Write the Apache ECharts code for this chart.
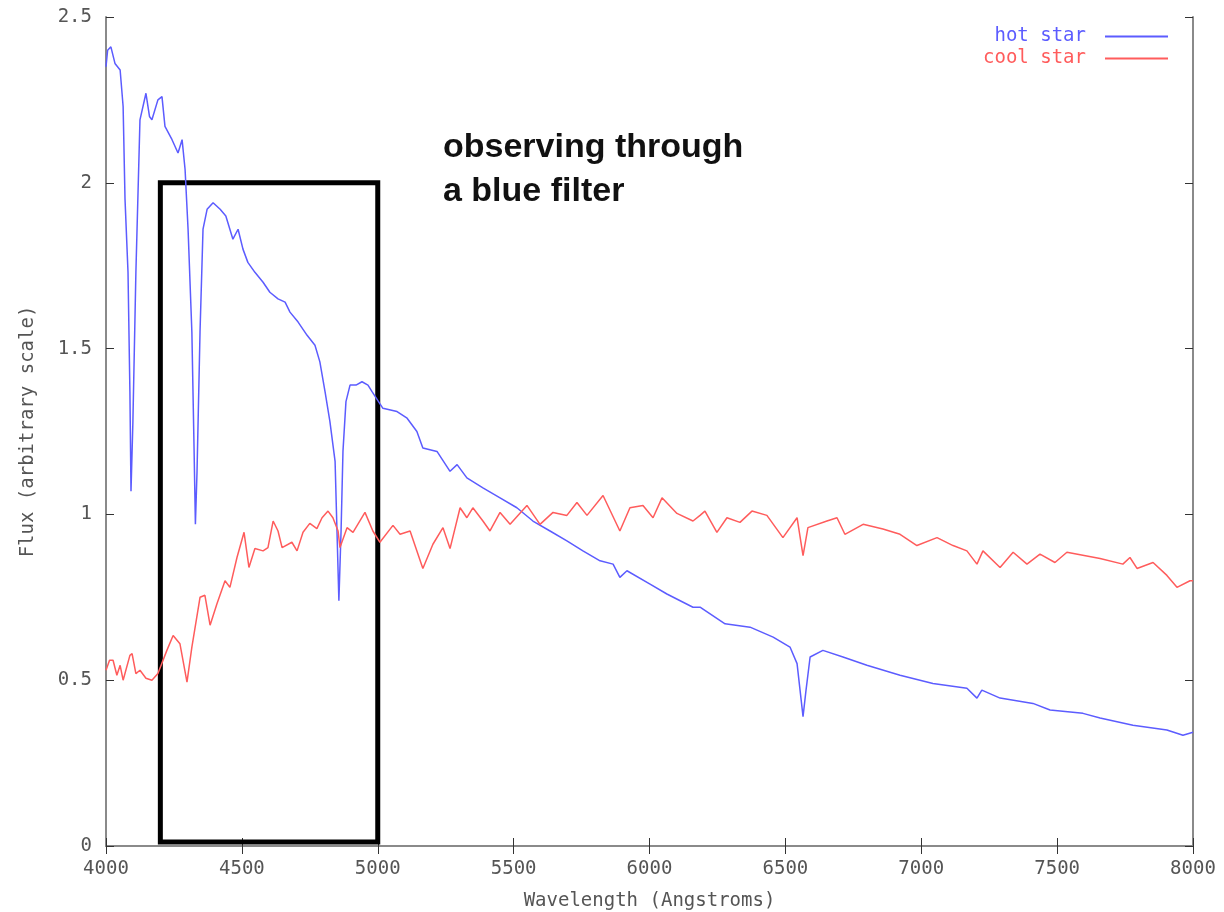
<!DOCTYPE html>
<html>
<head>
<meta charset="utf-8">
<title>hot star / cool star</title>
<script src="https://cdn.jsdelivr.net/npm/echarts@6/dist/echarts.min.js"></script>
<style>
  html, body { margin: 0; padding: 0; background: #fff; }
  #main { width: 1224px; height: 912px; }
</style>
</head>
<body>
<div id="main"></div>
<script>
// wavelength (Angstroms) and flux
const hotWave = [4000, 4006, 4018, 4033, 4052, 4063, 4070, 4081, 4088, 4092, 4099, 4110, 4125, 4147, 4160, 4169,
  4191, 4206, 4217, 4243, 4265, 4280, 4291, 4302, 4316, 4324, 4329, 4335, 4346, 4357, 4372, 4394, 4420, 4441,
  4467, 4486, 4504, 4522, 4548, 4578, 4603, 4633, 4659, 4677, 4707, 4740, 4769, 4787, 4806, 4824, 4843, 4850,
  4857, 4865, 4872, 4883, 4898, 4920, 4942, 4964, 4979, 5019, 5071, 5108, 5144, 5166, 5218, 5266, 5292, 5328,
  5387, 5450, 5512, 5571, 5634, 5696, 5755, 5818, 5866, 5891, 5917, 6002, 6064, 6160, 6186, 6278, 6370, 6455,
  6517, 6543, 6554, 6565, 6576, 6591, 6638, 6712, 6800, 6922, 7043, 7168, 7205, 7223, 7290, 7411, 7474, 7595,
  7658, 7779, 7904, 7963, 8000];
const hotFlux = [2.35, 2.40, 2.41, 2.36, 2.34, 2.23, 1.95, 1.73, 1.37, 1.07, 1.28, 1.73, 2.19, 2.27, 2.20, 2.19,
  2.25, 2.26, 2.17, 2.13, 2.09, 2.13, 2.04, 1.86, 1.55, 1.20, 0.97, 1.13, 1.55, 1.86, 1.92, 1.94, 1.92, 1.90,
  1.83, 1.86, 1.80, 1.76, 1.73, 1.70, 1.67, 1.65, 1.64, 1.61, 1.58, 1.54, 1.51, 1.46, 1.37, 1.28, 1.16, 0.95,
  0.74, 0.95, 1.19, 1.34, 1.39, 1.39, 1.40, 1.39, 1.37, 1.32, 1.31, 1.29, 1.25, 1.20, 1.19, 1.13, 1.15, 1.11,
  1.08, 1.05, 1.02, 0.98, 0.95, 0.92, 0.89, 0.86, 0.85, 0.81, 0.83, 0.79, 0.76, 0.72, 0.72, 0.67, 0.66, 0.63,
  0.60, 0.55, 0.47, 0.39, 0.47, 0.57, 0.59, 0.57, 0.545, 0.515, 0.49, 0.476, 0.446, 0.47, 0.446, 0.43, 0.41, 0.40,
  0.386, 0.364, 0.35, 0.334, 0.343];

const coolWave = [4000, 4013, 4026, 4040, 4052, 4063, 4088, 4096, 4110, 4125, 4147, 4169, 4191, 4224, 4247, 4272,
  4298, 4316, 4346, 4364, 4383, 4408, 4438, 4456, 4482, 4508, 4526, 4548, 4578, 4596, 4615, 4633, 4648, 4684,
  4703, 4725, 4750, 4776, 4795, 4817, 4835, 4854, 4861, 4887, 4909, 4953, 4982, 5008, 5056, 5082, 5119, 5166,
  5203, 5240, 5266, 5303, 5328, 5350, 5387, 5413, 5450, 5487, 5549, 5597, 5645, 5696, 5733, 5770, 5829, 5891,
  5928, 5976, 6013, 6046, 6101, 6160, 6186, 6204, 6248, 6285, 6333, 6377, 6432, 6491, 6543, 6565, 6583, 6653,
  6690, 6719, 6786, 6859, 6922, 6984, 7058, 7117, 7168, 7205, 7227, 7290, 7338, 7389, 7437, 7492, 7536, 7658,
  7742, 7768, 7794, 7853, 7904, 7941, 7989, 8000];
const coolFlux = [0.53, 0.56, 0.56, 0.515, 0.545, 0.50, 0.575, 0.58, 0.52, 0.53, 0.506, 0.50, 0.52, 0.59, 0.635, 0.61,
  0.494, 0.60, 0.75, 0.756, 0.666, 0.73, 0.80, 0.78, 0.87, 0.946, 0.84, 0.897, 0.89, 0.90, 0.98, 0.95, 0.90, 0.916,
  0.89, 0.946, 0.973, 0.957, 0.99, 1.01, 0.99, 0.95, 0.90, 0.96, 0.946, 1.006, 0.95, 0.916, 0.967, 0.94, 0.95, 0.837,
  0.91, 0.96, 0.897, 1.02, 0.99, 1.02, 0.98, 0.95, 1.006, 0.97, 1.027, 0.97, 1.006, 0.997, 1.036, 0.997, 1.057, 0.95,
  1.02, 1.027, 0.99, 1.05, 1.003, 0.98, 0.997, 1.01, 0.946, 0.99, 0.976, 1.01, 0.997, 0.93, 0.99, 0.876, 0.96, 0.98,
  0.99, 0.94, 0.97, 0.956, 0.94, 0.906, 0.93, 0.906, 0.89, 0.85, 0.89, 0.84, 0.886, 0.85, 0.88, 0.855, 0.886, 0.867,
  0.85, 0.87, 0.837, 0.855, 0.816, 0.78, 0.80, 0.80];

// blue filter box corners (wavelength, flux)
const filterBox = [[4200, 2.0], [5000, 0.012]];

const hotColor = '#5c5cff';
const coolColor = '#ff5c5c';
const monoFont = 'DejaVu Sans Mono';

function zip(xs, ys) {
  return xs.map((x, i) => [x, ys[i]]);
}

const frameLine = { show: true, lineStyle: { color: '#8a8a8a', width: 2 } };
const innerTick = { show: true, inside: true, length: 8, lineStyle: { color: '#333', width: 1 } };

const chart = echarts.init(document.getElementById('main'));
chart.setOption({
  animation: false,
  backgroundColor: '#fff',
  grid: { left: 106, right: 31, top: 17, bottom: 66, outerBoundsMode: 'none' },
  legend: {
    orient: 'vertical',
    right: 51,
    top: 22,
    align: 'right',
    icon: 'rect',
    itemWidth: 63,
    itemHeight: 2,
    itemGap: 3,
    textStyle: { fontFamily: monoFont, fontSize: 19, lineHeight: 19, padding: [0, 14, 0, 0] },
    data: [
      { name: 'hot star', textStyle: { color: hotColor } },
      { name: 'cool star', textStyle: { color: coolColor } }
    ]
  },
  xAxis: [
    {
      type: 'value', min: 4000, max: 8000, interval: 500,
      name: 'Wavelength (Angstroms)', nameLocation: 'middle', nameGap: 46,
      nameTextStyle: { fontFamily: monoFont, fontSize: 19, color: '#555' },
      axisLine: frameLine, axisTick: innerTick, splitLine: { show: false },
      axisLabel: { fontFamily: monoFont, fontSize: 19, color: '#555', margin: 14,
        formatter: function (v) { return String(v); } }
    },
    {
      type: 'value', position: 'top', min: 4000, max: 8000, interval: 500,
      axisLine: frameLine, axisTick: innerTick, splitLine: { show: false },
      axisLabel: { show: false }
    }
  ],
  yAxis: [
    {
      type: 'value', min: 0, max: 2.5, interval: 0.5,
      name: 'Flux (arbitrary scale)', nameLocation: 'middle', nameGap: 68,
      nameTextStyle: { fontFamily: monoFont, fontSize: 19, color: '#555' },
      axisLine: frameLine, axisTick: innerTick, splitLine: { show: false },
      axisLabel: { fontFamily: monoFont, fontSize: 19, color: '#555', margin: 14 }
    },
    {
      type: 'value', position: 'right', min: 0, max: 2.5, interval: 0.5,
      axisLine: frameLine, axisTick: innerTick, splitLine: { show: false },
      axisLabel: { show: false }
    }
  ],
  series: [
    {
      name: 'hot star',
      type: 'line',
      data: zip(hotWave, hotFlux),
      symbol: 'none',
      itemStyle: { color: hotColor },
      lineStyle: { color: hotColor, width: 1.5 },
      markArea: {
        silent: true,
        itemStyle: { color: 'rgba(0,0,0,0)', borderColor: '#000', borderWidth: 5 },
        data: [[{ coord: filterBox[0] }, { coord: filterBox[1] }]]
      }
    },
    {
      name: 'cool star',
      type: 'line',
      data: zip(coolWave, coolFlux),
      symbol: 'none',
      itemStyle: { color: coolColor },
      lineStyle: { color: coolColor, width: 1.5 }
    }
  ],
  graphic: [
    {
      type: 'text',
      left: 443,
      top: 126,
      style: {
        text: 'observing through\na blue filter',
        font: 'bold 34px "Liberation Sans", Arial, sans-serif',
        lineHeight: 44,
        fill: '#111'
      }
    }
  ]
});
window.addEventListener('resize', function () {
  chart.resize();
});
</script>
</body>
</html>
